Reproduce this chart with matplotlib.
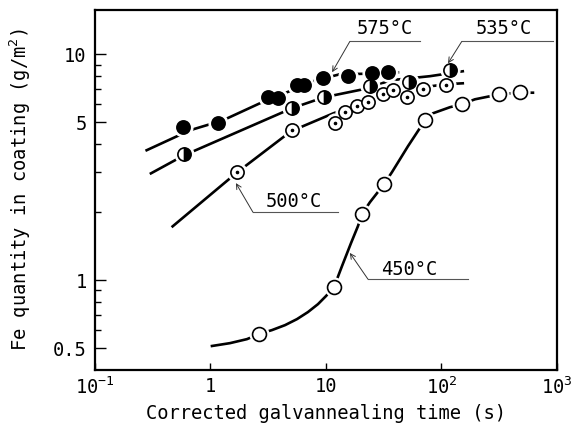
import numpy as np
import matplotlib
matplotlib.use("Agg")
from matplotlib import pyplot as plt
from matplotlib.ticker import FixedLocator, NullFormatter

plt.rcParams['font.family'] = ['DejaVu Sans Mono', 'DejaVu Sans']
plt.rcParams['mathtext.fontset'] = 'custom'
plt.rcParams['mathtext.rm'] = 'DejaVu Sans Mono'
plt.rcParams['mathtext.it'] = 'DejaVu Sans Mono'
plt.rcParams['mathtext.bf'] = 'DejaVu Sans Mono:bold'

# measured points (time s, Fe g/m2)
t575 = [0.58, 1.16, 3.15, 3.84, 5.6, 6.4, 9.4, 15.5, 25.0, 34.4]
f575 = [4.75, 4.95, 6.45, 6.39, 7.29, 7.29, 7.83, 8.03, 8.24, 8.37]

t535 = [0.59, 5.1, 9.6, 24.0, 52.4, 118]
f535 = [3.61, 5.77, 6.45, 7.22, 7.52, 8.49]

t500 = [1.70, 5.1, 12.0, 14.6, 18.6, 23.1, 31.2, 38.0, 50.3, 69.2, 109]
f500 = [3.0, 4.61, 4.95, 5.54, 5.89, 6.13, 6.65, 6.93, 6.45, 7.00, 7.29]

t450 = [2.63, 11.7, 20.5, 31.8, 72, 150, 315, 478]
f450 = [0.577, 0.931, 1.96, 2.66, 5.10, 6.01, 6.69, 6.79]

# hand drawn fit curves
ct575 = [0.28, 0.665, 1.28, 2.68, 4.6, 7.7, 13.2, 21.8, 42]
cf575 = [3.76, 4.61, 5.10, 6.07, 6.79, 7.60, 8.16, 8.2, 8.32]

ct535 = [0.305, 0.59, 5.08, 9.6, 24.0, 35.8, 79.5, 153]
cf535 = [2.97, 3.57, 5.77, 6.45, 7.1, 7.67, 8.0, 8.41]

ct500 = [0.47, 1.70, 4.97, 11.5, 23.1, 38, 69, 109, 153]
cf500 = [1.73, 3.0, 4.56, 5.47, 6.25, 6.93, 7.14, 7.37, 7.44]

ct450 = [1.03, 1.475, 2.07, 2.63, 3.41, 4.42, 5.61, 6.98, 8.53, 10.0, 11.73,
         13.76, 16.47, 18.92, 20.5, 24.04, 27.65, 31.8, 37.27, 43.72, 51.3,
         60.1, 72.0, 84.4, 118.4, 150, 195, 263, 354.6, 478, 620]
cf450 = [0.511, 0.526, 0.548, 0.577, 0.601, 0.632, 0.672, 0.722, 0.783, 0.850,
         0.931, 1.153, 1.458, 1.734, 1.96, 2.214, 2.426, 2.66, 3.006, 3.43,
         3.917, 4.43, 5.10, 5.48, 5.83, 6.01, 6.32, 6.52, 6.69, 6.76, 6.76]

fig = plt.figure(figsize=(5.85, 4.28), dpi=100)
ax = fig.add_axes([0.1624, 0.1355, 0.7896, 0.841])
ax.set_xscale('log')
ax.set_yscale('log')
ax.set_xlim(0.1, 1000)
ax.set_ylim(0.4, 15.7)

for ct, cf in [(ct575, cf575), (ct535, cf535), (ct500, cf500), (ct450, cf450)]:
    ax.plot(ct, cf, color='black', lw=1.9, zorder=2, solid_joinstyle='round')

ms = 9.5
# white halos give the gaps around the symbols
for t, f in [(t575, f575), (t535, f535), (t500, f500), (t450, f450)]:
    ax.plot(t, f, 'o', ms=ms + 4, mfc='white', mec='white', zorder=3)

ax.plot(t575, f575, 'o', ms=ms, mfc='black', mec='black', mew=1.2, zorder=4)
ax.plot(t535, f535, 'o', ms=ms, fillstyle='right', mfc='black',
        markerfacecoloralt='white', mec='black', mew=1.2, zorder=4)
ax.plot(t500, f500, 'o', ms=ms, mfc='white', mec='black', mew=1.2, zorder=4)
ax.plot(t500, f500, 'o', ms=1.6, mfc='black', mec='black', zorder=5)
ax.plot(t450, f450, 'o', ms=ms + 0.5, mfc='white', mec='black', mew=1.2, zorder=4)

# labels with leader lines
labels = [
    ('575°C', (32.4, 13.0), (16.1, 65.2, 11.4), (11.3, 8.33)),
    ('535°C', (344, 13.0), (150, 923, 11.4), (114, 9.12)),
    ('500°C', (5.23, 2.24), (2.33, 12.7, 2.0), (1.66, 2.69)),
    ('450°C', (52.8, 1.12), (23.1, 169, 1.01), (16.1, 1.32)),
]
for txt, pos, ul, tip in labels:
    ax.text(pos[0], pos[1], txt, fontsize=13.5, ha='center', va='center', zorder=6)
    ax.plot([ul[0], ul[1]], [ul[2], ul[2]], color='#555555', lw=0.8, zorder=6,
            clip_on=False)
    ax.annotate('', xy=tip, xytext=(ul[0], ul[2]),
                arrowprops=dict(arrowstyle='->', lw=0.7, color='#333333',
                                shrinkA=0, shrinkB=0, mutation_scale=9),
                zorder=6, annotation_clip=False)

ax.xaxis.set_major_locator(FixedLocator([0.1, 1, 10, 100, 1000]))
ax.xaxis.set_minor_locator(FixedLocator([]))
ax.set_xticklabels(['$\\mathregular{10^{-1}}$', '1', '10',
                    '$\\mathregular{10^{2}}$', '$\\mathregular{10^{3}}$'])
ax.yaxis.set_major_locator(FixedLocator([0.5, 1, 5, 10]))
ax.yaxis.set_minor_locator(FixedLocator([0.6, 0.7, 0.8, 0.9, 2, 3, 4, 6, 7, 8, 9]))
ax.yaxis.set_minor_formatter(NullFormatter())
ax.set_yticklabels(['0.5', '1', '5', '10'])

ax.tick_params(which='both', direction='in', labelsize=13.5, width=1.0)
ax.tick_params(axis='x', which='major', length=5, pad=5)
ax.tick_params(axis='y', which='major', length=8, pad=6)
ax.tick_params(axis='y', which='minor', length=4.5)
for sp in ax.spines.values():
    sp.set_linewidth(1.6)

ax.set_xlabel('Corrected galvannealing time (s)', fontsize=13.5, labelpad=4)
ax.set_ylabel('Fe quantity in coating (g/m$\\mathregular{^{2}}$)', fontsize=13.5,
              labelpad=14)

fig.savefig('out.png', dpi=100)
